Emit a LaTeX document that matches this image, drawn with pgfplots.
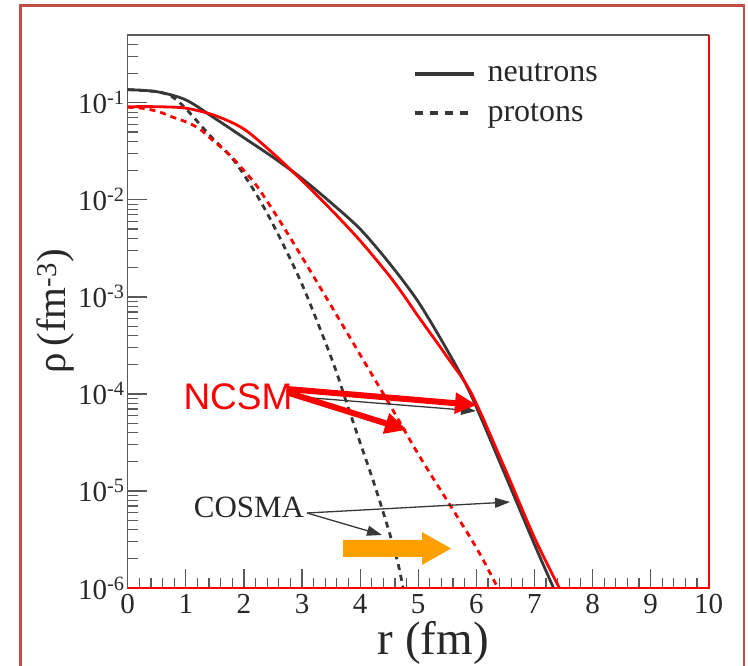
\documentclass[border=0pt]{standalone}
\usepackage{fontspec}
\setmainfont{Liberation Serif}
\newfontfamily\ncsmfont{Liberation Sans}
\usepackage{pgfplots}
\pgfplotsset{compat=1.18}
\usetikzlibrary{arrows.meta}

\definecolor{framered}{RGB}{192,80,70}
\definecolor{curvegray}{RGB}{55,55,55}
\definecolor{axisgray}{RGB}{90,90,90}
\definecolor{textgray}{RGB}{40,40,40}
\definecolor{arrowor}{RGB}{255,160,0}
\definecolor{ncsmred}{RGB}{250,0,0}

\begin{document}
\begin{tikzpicture}[x=1pt,y=1pt]
\path[use as bounding box] (0,0) rectangle (748,665);
% outer frame of the slide
\draw[framered, line width=2.5pt] (20.5,-5) -- (20.5,659.5) -- (744,659.5) -- (744,-5);

\begin{axis}[
  at={(127.7pt,77pt)}, anchor=south west, scale only axis,
  width=581pt, height=553pt,
  ymode=log, xmin=0, xmax=10, ymin=1e-6, ymax=0.5,
  clip=false,
  axis line style={draw=axisgray, line width=1.5pt},
  tick style={draw=axisgray, line width=1.2pt},
  tick pos=left, tick align=inside,
  major tick length=19pt, minor tick length=10pt,
  xtick={0,1,2,3,4,5,6,7,8,9,10},
  xticklabels={0,1,2,3,4,5,6,7,8,9,10},
  minor x tick num=4,
  ytick={1e-6,1e-5,1e-4,1e-3,1e-2,1e-1},
  yticklabels={10\textsuperscript{-6},10\textsuperscript{-5},10\textsuperscript{-4},10\textsuperscript{-3},10\textsuperscript{-2},10\textsuperscript{-1}},
  minor ytick={2e-6,3e-6,4e-6,5e-6,6e-6,7e-6,8e-6,9e-6,
               2e-5,3e-5,4e-5,5e-5,6e-5,7e-5,8e-5,9e-5,
               2e-4,3e-4,4e-4,5e-4,6e-4,7e-4,8e-4,9e-4,
               2e-3,3e-3,4e-3,5e-3,6e-3,7e-3,8e-3,9e-3,
               2e-2,3e-2,4e-2,5e-2,6e-2,7e-2,8e-2,9e-2,
               0.2,0.3,0.4},
  xticklabel style={font=\fontsize{29}{32}\selectfont, text=textgray, inner sep=2pt, yshift=-4pt},
  yticklabel style={font=\fontsize{29}{32}\selectfont, text=textgray, inner sep=3pt},
  xlabel={r (fm)},
  ylabel={ρ\,(fm\textsuperscript{-3})},
  every axis x label/.style={at={(axis description cs:0.526,-0.121)}, anchor=base,
    font=\fontsize{47}{50}\selectfont, text=textgray},
  every axis y label/.style={at={(axis description cs:-0.1062,0.5)}, rotate=90, anchor=base,
    font=\fontsize{41}{44}\selectfont, text=textgray},
  legend style={draw=none, fill=none, at={(axis description cs:0.49,0.952)}, anchor=north west,
    font=\fontsize{32}{38}\selectfont, text=textgray, row sep=16pt, column sep=10pt, inner sep=0pt},
  legend image code/.code={\draw[#1] (0pt,0pt) -- (59pt,0pt);},
  legend cell align=left,
]
% COSMA neutrons
\addplot[curvegray, line width=2.8pt, smooth, forget plot] coordinates {
  (0,0.1368) (0.5,0.1303) (1.0,0.1072) (1.5,0.0692) (2.0,0.0437) (2.5,0.0275)
  (3.0,0.0166) (3.5,9.33e-3) (4.0,5.01e-3) (4.5,2.24e-3) (5.0,8.91e-4)
  (5.5,2.82e-4) (5.9,1.0e-4) (6.5,1.45e-5) (7.0,2.82e-6) (7.33,1.0e-6)};
% COSMA protons
\addplot[curvegray, line width=2.8pt, smooth, dash pattern=on 6pt off 5pt, forget plot] coordinates {
  (0,0.1368) (0.5,0.1303) (0.75,0.117) (1.0,0.0871) (1.42,0.0457) (1.81,0.0263)
  (2.16,0.0129) (2.5,5.62e-3) (3.0,1.35e-3) (3.516,2.26e-4) (3.75,8.71e-5)
  (4.0,3.16e-5) (4.25,1.15e-5) (4.5,3.80e-6) (4.65,1.82e-6) (4.74,1.0e-6)};
% NCSM neutrons
\addplot[red, line width=2.8pt, smooth, forget plot] coordinates {
  (0,0.0912) (0.5,0.0912) (1.0,0.0881) (1.5,0.0741) (2.0,0.0537) (2.5,0.0302)
  (3.0,0.0158) (3.5,7.94e-3) (4.0,3.80e-3) (4.5,1.66e-3) (4.77,1.0e-3)
  (5.0,6.31e-4) (5.5,2.40e-4) (5.92,1.0e-4) (6.5,1.66e-5) (7.0,3.31e-6)
  (7.43,1.0e-6)};
% NCSM protons
\addplot[red, line width=2.8pt, smooth, dash pattern=on 6pt off 5pt, forget plot] coordinates {
  (0,0.0902) (0.3,0.0871) (0.56,0.0800) (0.78,0.0710) (1.02,0.0631) (1.24,0.0537)
  (1.47,0.0407) (1.71,0.0309) (1.93,0.0224) (2.22,0.01396) (2.6,6.31e-3)
  (3.0,2.57e-3) (3.5,8.13e-4) (4.05,2.26e-4) (4.5,7.94e-5) (5.0,2.40e-5)
  (5.5,7.94e-6) (5.89,3.36e-6) (6.12,1.94e-6) (6.37,1.0e-6)};

\addlegendimage{curvegray, line width=4pt}
\addlegendentry{neutrons}
\addlegendimage{curvegray, line width=4pt, dash pattern=on 8pt off 7pt}
\addlegendentry{protons}

% red overlay on bottom and right frame lines
\draw[red, line width=2.2pt] (rel axis cs:0,0) -- (rel axis cs:1,0) -- (rel axis cs:1,1);
\end{axis}

% annotations (pixel-like coordinates)
\node[font=\fontsize{31}{34}\selectfont, text=textgray] at (249,158) {COSMA};
\draw[curvegray, line width=1.3pt, -{Triangle[length=15pt,width=10pt]}] (307,152) -- (510,163);
\draw[curvegray, line width=1.3pt, -{Triangle[length=15pt,width=10pt]}] (307,152) -- (382,130);
\draw[curvegray, line width=1.3pt, -{Triangle[length=15pt,width=10pt]}] (300,268) -- (476,254);

\node[font=\ncsmfont\fontsize{37}{40}\selectfont, text=ncsmred, anchor=base west] at (180,255) {NCSM};
\draw[ncsmred, line width=6pt, -{Triangle[length=22pt,width=20pt]}] (287,276) -- (477,260);
\draw[ncsmred, line width=6pt, -{Triangle[length=22pt,width=20pt]}] (289,272) -- (407,235);

\fill[arrowor] (343,108) -- (422,108) -- (422,100) -- (451,116.5) -- (422,133) -- (422,125) -- (343,125) -- cycle;
\end{tikzpicture}
\end{document}
